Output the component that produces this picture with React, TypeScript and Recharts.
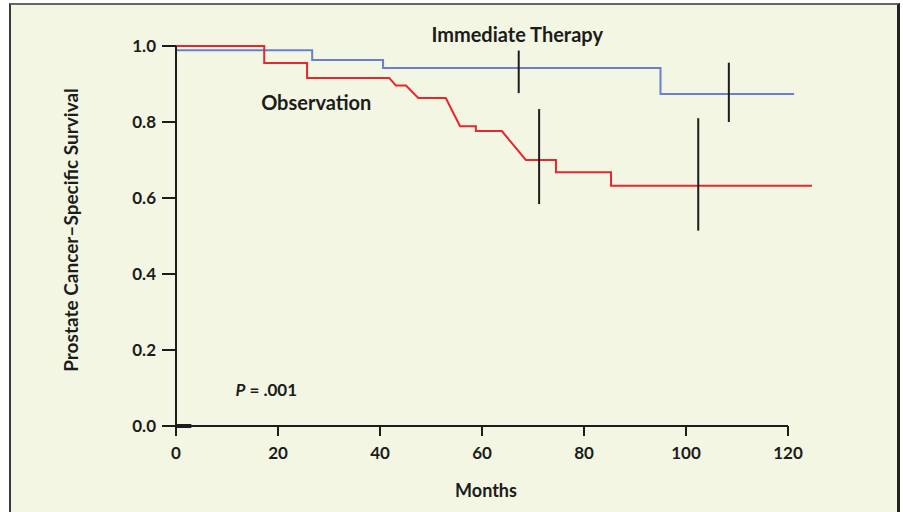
import React from "react"
import {
  LineChart,
  Line,
  XAxis,
  YAxis,
  ReferenceLine,
  ReferenceDot,
  Label,
} from "recharts"

// Observation arm (red), Kaplan–Meier vertices
const obsMonths = [0, 17.3, 17.3, 25.7, 25.7, 41.8, 43.1, 45.1, 47.5, 52.9, 55.7, 58.8, 58.8, 63.9, 68.6, 74.5, 74.5, 85.3, 85.3, 124.7]
const obsSurvival = [1.0, 1.0, 0.955, 0.955, 0.916, 0.916, 0.896, 0.896, 0.863, 0.863, 0.789, 0.789, 0.776, 0.776, 0.7, 0.7, 0.668, 0.668, 0.632, 0.632]

// Immediate therapy arm (blue)
const thxMonths = [0, 26.7, 26.7, 40.6, 40.6, 95, 95, 121.2]
const thxSurvival = [0.989, 0.989, 0.963, 0.963, 0.942, 0.942, 0.874, 0.874]

// vertical interval bars
const ciMonths = [67.2, 108.4, 71.2, 102.4]
const ciLow = [0.876, 0.8, 0.584, 0.514]
const ciHigh = [0.988, 0.956, 0.834, 0.81]

const xTicks = [0, 20, 40, 60, 80, 100, 120]
const yTicks = [0, 0.2, 0.4, 0.6, 0.8, 1.0]

const obsData = obsMonths.map((m, i) => ({ m, s: obsSurvival[i] }))
const thxData = thxMonths.map((m, i) => ({ m, s: thxSurvival[i] }))

const FONT = "Lato, 'Open Sans', sans-serif"
const INK = "#1c1c1c"

function note(props: any, text: string, size = 20, italicLead?: string) {
  const vb = props.viewBox || {}
  const cx = (vb.x ?? 0) + (vb.width ?? 0) / 2
  const cy = (vb.y ?? 0) + (vb.height ?? 0) / 2
  return (
    <text x={cx} y={cy} dy="0.36em" textAnchor="middle" fontFamily={FONT} fontWeight={700} fontSize={size} fill={INK}>
      {italicLead ? <tspan fontStyle="italic">{italicLead}</tspan> : null}
      {text}
    </text>
  )
}

export default function App() {
  return (
    <div style={{ position: "fixed", left: 0, top: 0, width: 903, height: 512, overflow: "hidden", background: "#fff" }}>
      <div
        style={{
          position: "absolute",
          left: 9,
          top: 3,
          width: 891,
          height: 530,
          boxSizing: "border-box",
          borderLeft: "2px solid #3a3a3a",
          borderTop: "2px solid #666",
          borderRight: "3px solid #222",
          background: "#f3f6e2",
        }}
      />
      <div style={{ position: "absolute", left: 0, top: 0 }}>
        <LineChart width={903} height={512} margin={{ top: 46, right: 64, left: 0, bottom: 0 }}>
          <XAxis
            type="number"
            dataKey="m"
            domain={[0, 130]}
            ticks={xTicks}
            axisLine={false}
            tickLine={{ stroke: INK, strokeWidth: 2 }}
            tickSize={10}
            tickMargin={11}
            height={86}
            tick={{ fontFamily: FONT, fontWeight: 700, fontSize: 17, fill: INK }}
          >
            <Label
              content={(p: any) => {
                const vb = p.viewBox || {}
                return (
                  <text x={vb.x + 310} y={497} textAnchor="middle" fontFamily={FONT} fontWeight={700} fontSize={18} fill={INK}>
                    Months
                  </text>
                )
              }}
            />
          </XAxis>
          <YAxis
            type="number"
            domain={[0, 1]}
            ticks={yTicks}
            width={176}
            axisLine={{ stroke: INK, strokeWidth: 2 }}
            tickLine={{ stroke: INK, strokeWidth: 2 }}
            tickSize={14}
            tickMargin={6}
            tickFormatter={(v: number) => v.toFixed(1)}
            tick={{ fontFamily: FONT, fontWeight: 700, fontSize: 17, fill: INK }}
          >
            <Label
              content={(p: any) => {
                const vb = p.viewBox || {}
                const y = vb.y + vb.height / 2 - 6
                return (
                  <text x={78} y={y} transform={`rotate(-90 78 ${y})`} textAnchor="middle" fontFamily={FONT} fontWeight={700} fontSize={19} fill={INK}>
                    Prostate Cancer–Specific Survival
                  </text>
                )
              }}
            />
          </YAxis>

          <ReferenceLine segment={[{ x: 0, y: 0 }, { x: 120, y: 0 }]} stroke={INK} strokeWidth={2} />
          <ReferenceLine segment={[{ x: 0, y: 0 }, { x: 3, y: 0 }]} stroke={INK} strokeWidth={4} />

          <Line data={thxData} dataKey="s" type="linear" stroke="#6b7fcb" strokeWidth={2} dot={false} isAnimationActive={false} />
          <Line data={obsData} dataKey="s" type="linear" stroke="#e8262c" strokeWidth={2} dot={false} isAnimationActive={false} />

          {ciMonths.map((m, i) => (
            <ReferenceLine
              key={i}
              segment={[{ x: m, y: ciLow[i] }, { x: m, y: ciHigh[i] }]}
              stroke={INK}
              strokeWidth={2}
            />
          ))}

          <ReferenceDot x={66.9} y={1.029} r={1} fill="none" stroke="none" ifOverflow="visible" label={(p: any) => note(p, "Immediate Therapy")} />
          <ReferenceDot x={27.5} y={0.85} r={1} fill="none" stroke="none" ifOverflow="visible" label={(p: any) => note(p, "Observation")} />
          <ReferenceDot x={17.7} y={0.095} r={1} fill="none" stroke="none" ifOverflow="visible" label={(p: any) => note(p, " = .001", 17, "P")} />
        </LineChart>
      </div>
    </div>
  )
}
